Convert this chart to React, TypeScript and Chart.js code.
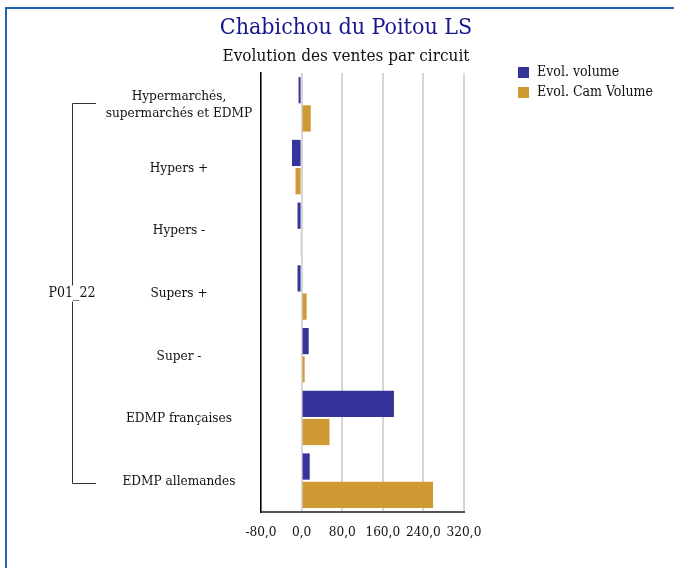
import React, { useEffect, useRef } from "react";
import { Chart, registerables } from "chart.js";

Chart.register(...registerables);

const chartTitle = "Chabichou du Poitou LS";
const chartSubtitle = "Evolution des ventes par circuit";
const groupLabel = "P01_22";
const categories: (string | string[])[] = [
  ["Hypermarchés,", "supermarchés et EDMP"],
  "Hypers +",
  "Hypers -",
  "Supers +",
  "Super -",
  "EDMP françaises",
  "EDMP allemandes",
];
const seriesNames = ["Evol. volume", "Evol. Cam Volume"];
const evolVolume = [-6, -19, -8, -8, 14, 182, 16];
const evolCamVolume = [18, -12, -1.5, 10, 6, 55, 259];
const xMin = -80;
const xMax = 320;
const xStep = 80;

const FONT = "'DejaVu Serif Condensed', 'DejaVu Serif', serif";
const BLUE = "#35349a";
const GOLD = "#cf9a33";

const decorPlugin = {
  id: "decor",
  afterDraw(chart: any) {
    const ctx = chart.ctx as CanvasRenderingContext2D;
    const y = chart.scales.y;
    ctx.save();
    // Titles
    ctx.textAlign = "center";
    ctx.textBaseline = "middle";
    ctx.fillStyle = "#16168c";
    ctx.font = `23px ${FONT}`;
    ctx.fillText(chartTitle, 346, 28);
    ctx.fillStyle = "#111";
    ctx.font = `17px ${FONT}`;
    ctx.fillText(chartSubtitle, 346, 57);

    // Legend
    ctx.font = `14px ${FONT}`;
    ctx.textAlign = "left";
    chart.data.datasets.forEach((ds: any, i: number) => {
      const cy = 72.5 + i * 20;
      ctx.fillStyle = ds.backgroundColor;
      ctx.fillRect(518, cy - 5.5, 11, 11);
      ctx.fillStyle = "#111";
      ctx.fillText(ds.label, 537, cy);
    });

    // Category labels
    ctx.textAlign = "center";
    ctx.fillStyle = "#111";
    ctx.font = `13.5px ${FONT}`;
    chart.data.labels.forEach((lab: any, i: number) => {
      const py = y.getPixelForValue(i) + 1;
      const lines = Array.isArray(lab) ? lab : [lab];
      const lh = 17;
      lines.forEach((ln: string, k: number) => {
        ctx.fillText(ln, 179, py + (k - (lines.length - 1) / 2) * lh);
      });
    });

    // Group bracket
    const top = Math.round(y.getPixelForValue(0) - 1.5) + 0.5;
    const bot = Math.round(y.getPixelForValue(categories.length - 1) + 2.5) + 0.5;
    const mid = y.getPixelForValue(3);
    ctx.strokeStyle = "#333";
    ctx.lineWidth = 1;
    ctx.beginPath();
    ctx.moveTo(96, top);
    ctx.lineTo(72.5, top);
    ctx.lineTo(72.5, mid - 7);
    ctx.moveTo(72.5, mid + 9);
    ctx.lineTo(72.5, bot);
    ctx.lineTo(96, bot);
    ctx.stroke();
    ctx.font = `14px ${FONT}`;
    ctx.fillText(groupLabel, 72, mid + 1);
    ctx.restore();
  },
};

export default function App() {
  const ref = useRef<HTMLCanvasElement>(null);
  useEffect(() => {
    if (!ref.current) return;
    const chart = new Chart(ref.current, {
      type: "bar",
      data: {
        labels: categories,
        datasets: [
          { label: seriesNames[0], data: evolVolume, backgroundColor: BLUE },
          { label: seriesNames[1], data: evolCamVolume, backgroundColor: GOLD },
        ],
      },
      options: {
        indexAxis: "y",
        animation: false,
        responsive: false,
        devicePixelRatio: 1,
        layout: { padding: { left: 0, right: 210, top: 73, bottom: 16 } },
        datasets: { bar: { categoryPercentage: 0.9, barPercentage: 0.93 } },
        plugins: {
          legend: { display: false },
          title: { display: false },
          tooltip: { enabled: false },
        },
        scales: {
          x: {
            min: xMin,
            max: xMax,
            afterFit: (s: any) => {
              s.height = 40;
            },
            ticks: {
              stepSize: xStep,
              padding: 12,
              maxRotation: 0,
              minRotation: 0,
              autoSkip: false,
              color: "#111",
              font: { family: FONT, size: 13.5 },
              callback: (v: any) => Number(v).toFixed(1).replace(".", ","),
            },
            grid: { color: "#d6d6d6", lineWidth: 2, drawTicks: false },
            border: { color: "#555", width: 2 },
          },
          y: {
            afterFit: (s: any) => {
              s.width = 261;
            },
            ticks: { display: false },
            grid: { display: false, drawTicks: false },
            border: { color: "#000", width: 1.5 },
          },
        },
      },
      plugins: [decorPlugin],
    });
    return () => chart.destroy();
  }, []);
  return (
    <div
      style={{
        position: "fixed",
        left: 0,
        top: 0,
        width: 674,
        height: 568,
        overflow: "hidden",
        background: "#fff",
      }}
    >
      <canvas ref={ref} width={674} height={568} style={{ position: "absolute", left: 0, top: 0 }} />
      <div
        style={{
          position: "absolute",
          left: 5,
          top: 7,
          width: 700,
          height: 600,
          borderLeft: "2px solid #1e63b4",
          borderTop: "2px solid #1e63b4",
          pointerEvents: "none",
        }}
      />
    </div>
  );
}
